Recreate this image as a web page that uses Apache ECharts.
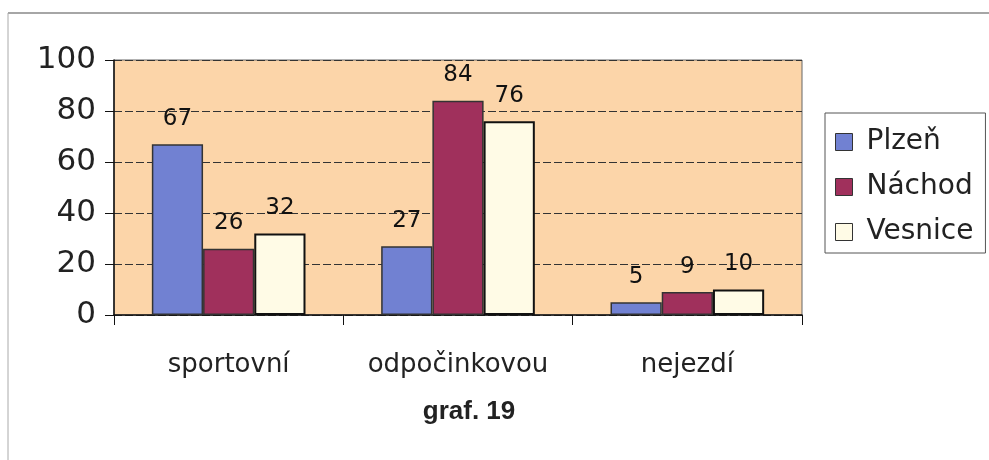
<!DOCTYPE html>
<html>
<head>
<meta charset="utf-8">
<script src="https://cdn.jsdelivr.net/npm/echarts@6/dist/echarts.min.js"></script>
<style>html,body{margin:0;padding:0;background:#fff}#c{width:989px;height:460px}</style>
</head>
<body>
<div id="c"></div>
<script>
const categories = ['sportovní', 'odpočinkovou', 'nejezdí'];
const seriesNames = ['Plzeň', 'Náchod', 'Vesnice'];
const plzen = [67, 27, 5];
const nachod = [26, 84, 9];
const vesnice = [32, 76, 10];
const yTicks = [0, 20, 40, 60, 80, 100];
const colors = ['#7181d2', '#a0305c', '#fffbe6'];

const chart = echarts.init(document.getElementById('c'), null, {renderer: 'canvas'});
const font = 'DejaVu Sans, sans-serif';
const fontA = 'Liberation Sans, Arial, sans-serif';
const mk = (name, data, i) => ({
  name, type: 'bar', data,
  barGap: '0%', barCategoryGap: '33%',
  itemStyle: {color: colors[i], borderColor: i === 2 ? '#111' : '#333', borderWidth: i === 2 ? 2 : 1.5},
  label: {show: true, position: 'top', distance: 14, color: '#111', fontFamily: font, fontSize: 23}
});
chart.setOption({
  animation: false,
  textStyle: {fontFamily: font},
  title: {text: 'graf. 19', left: 464, textAlign: 'center', top: 394,
    textStyle: {fontFamily: fontA, fontSize: 26, fontWeight: 'bold', color: '#222'}},
  legend: {
    orient: 'vertical', left: 825, top: 113,
    padding: [15, 12, 7, 10], itemGap: 17, itemWidth: 17, itemHeight: 17,
    backgroundColor: '#fff', borderColor: '#555', borderWidth: 1,
    textStyle: {fontFamily: font, fontSize: 28, color: '#222', padding: [0, 0, 0, 9]},
    icon: 'rect',
    itemStyle: {borderColor: '#333', borderWidth: 1},
    data: seriesNames
  },
  grid: {left: 114, right: 187, top: 60, bottom: 145, show: true,
    backgroundColor: '#fcd5a9', borderColor: '#666', borderWidth: 1},
  xAxis: {
    type: 'category', data: categories,
    axisLine: {lineStyle: {color: '#111', width: 1.5}},
    axisTick: {show: true, length: 10, interval: 0, lineStyle: {color: '#111'}},
    axisLabel: {fontFamily: font, fontSize: 26, color: '#222', margin: 37, interval: 0, hideOverlap: false}
  },
  yAxis: {
    type: 'value', min: yTicks[0], max: yTicks[yTicks.length - 1], interval: 20,
    axisLine: {show: true, lineStyle: {color: '#111', width: 1.5}},
    axisTick: {show: true, length: 9, lineStyle: {color: '#111'}},
    axisLabel: {fontFamily: font, fontSize: 31, color: '#222', margin: 18},
    splitLine: {show: true, lineStyle: {color: '#333', type: [8, 3], width: 1}}
  },
  graphic: [
    {type: 'line', shape: {x1: 8, y1: 13, x2: 989, y2: 13}, style: {stroke: '#888', lineWidth: 1.5}},
    {type: 'line', shape: {x1: 8, y1: 13, x2: 8, y2: 460}, style: {stroke: '#aaa', lineWidth: 1}}
  ],
  series: [mk(seriesNames[0], plzen, 0), mk(seriesNames[1], nachod, 1), mk(seriesNames[2], vesnice, 2)]
});
</script>
</body>
</html>
